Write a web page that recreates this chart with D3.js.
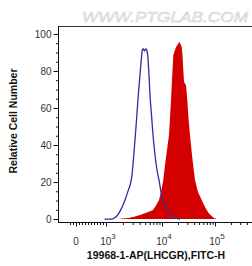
<!DOCTYPE html>
<html>
<head>
<meta charset="utf-8">
<script src="https://cdn.jsdelivr.net/npm/d3@7"></script>
<style>
  body { margin: 0; background: #fff; }
  svg { display: block; font-family: Arial, "Liberation Sans", sans-serif; }
</style>
</head>
<body>
<div id="chart"></div>
<script>
// isotype control (blue outline)
const controlIntensity = [950, 1280, 1448, 1638, 1853, 2184, 2471, 2877, 3035, 3295, 3504, 3774, 4047, 4341, 4449, 4636, 4870, 5116, 5331, 5555, 5858, 6105, 6494, 6907, 7499, 8141, 8840, 9597, 10444, 11393, 12429, 14155, 16129, 18376, 21857];
const controlCount = [0, 0, 0.8, 2.4, 5.2, 10.3, 15.1, 22.5, 29.5, 42.7, 53.5, 67.0, 77.8, 88.6, 91.4, 91.9, 90.8, 91.9, 91.4, 88.6, 77.8, 67.0, 56.2, 45.4, 34.6, 26.5, 21.1, 14.6, 10.3, 7.0, 4.9, 2.7, 1.6, 0.5, 0];

// LHCGR stained sample (red fill)
const sampleIntensity = [1638, 2471, 3295, 4047, 5397, 6907, 7814, 8840, 9597, 10581, 11393, 12429, 13557, 14155, 14785, 15443, 16342, 17591, 18376, 19611, 20484, 21207, 22345, 23532, 24369, 25231, 26010, 28369, 30015, 31623, 33750, 36813, 39300, 41942, 47774, 56105, 62000, 69736, 77080, 86655, 95743, 109000];
const sampleCount = [0, 0.5, 1.4, 2.2, 3.5, 4.9, 7.3, 10.3, 14.6, 21.1, 29.2, 37.3, 45.4, 54.6, 64.3, 75.1, 88.6, 91.4, 93.0, 94.1, 95.1, 95.7, 94.6, 93.0, 88.6, 80.5, 74.1, 72.4, 64.3, 54.6, 45.4, 34.6, 27.6, 21.1, 14.6, 10.3, 7.6, 4.9, 3.0, 1.6, 0.5, 0];

const xMajor = [0, 1e3, 1e4, 1e5];
const xMajorLabels = ["0", "3", "4", "5"];
const xMinorLin = [-200, -100, 100, 200, 300, 400, 500, 600, 700, 800, 900];
const xMinorLog = [2e3, 3e3, 4e3, 5e3, 6e3, 7e3, 8e3, 9e3,
  2e4, 3e4, 4e4, 5e4, 6e4, 7e4, 8e4, 9e4,
  2e5, 3e5, 4e5, 5e5];
const yMajor = [0, 20, 40, 60, 80, 100];
const yMinor = d3.range(0, 101, 5);

const W = 252, H = 266;
const plotLeft = 58, plotRight = 252, plotTop = 26, plotBottom = 222;

const svg = d3.select("#chart").append("svg")
  .attr("width", W).attr("height", H);

// logicle-like display: linear below 10^3, log above
const xLin = d3.scaleLinear().domain([0, 1e3]).range([76, 106]);
const xLog = d3.scaleLog().domain([1e3, 1e4, 1e5]).range([106, 162, 215]);
const x = v => v < 1e3 ? xLin(v) : xLog(v);
const y = d3.scaleLinear().domain([-1.6, 104.3]).range([plotBottom, plotTop]);

// watermark
svg.append("text")
  .attr("x", 82).attr("y", 22)
  .attr("textLength", 166)
  .attr("lengthAdjust", "spacingAndGlyphs")
  .style("font-size", "15px")
  .style("font-style", "italic")
  .style("fill", "#f0f0f0")
  .style("stroke", "#cdcdcd")
  .style("stroke-width", 0.5)
  .text("WWW.PTGLAB.COM");

const sample = sampleIntensity.map((v, i) => ({v: v, c: sampleCount[i]}));
const control = controlIntensity.map((v, i) => ({v: v, c: controlCount[i]}));

svg.append("path")
  .datum(sample)
  .attr("fill", "#d40000")
  .attr("d", d3.area().x(d => x(d.v)).y0(y(0)).y1(d => y(d.c)));

svg.append("path")
  .datum(control)
  .attr("fill", "none")
  .attr("stroke", "#2e2e9e")
  .attr("stroke-width", 1.3)
  .attr("d", d3.line().curve(d3.curveMonotoneX).x(d => x(d.v)).y(d => y(d.c)));

// frame lines
svg.append("line").attr("x1", plotLeft).attr("x2", plotRight).attr("y1", plotTop + 0.5).attr("y2", plotTop + 0.5)
  .attr("stroke", "#333").attr("stroke-width", 1);
svg.append("line").attr("x1", plotLeft + 0.5).attr("x2", plotLeft + 0.5).attr("y1", plotTop).attr("y2", plotBottom + 0.5)
  .attr("stroke", "#111").attr("stroke-width", 1);
svg.append("line").attr("x1", plotLeft).attr("x2", plotRight).attr("y1", plotBottom + 0.5).attr("y2", plotBottom + 0.5)
  .attr("stroke", "#111").attr("stroke-width", 1);

// y axis
const yAxisMinor = svg.append("g").attr("transform", `translate(${plotLeft + 0.5},0)`)
  .call(d3.axisLeft(y).tickValues(yMinor).tickSize(2.5).tickFormat(""));
const yAxis = svg.append("g").attr("transform", `translate(${plotLeft + 0.5},0)`)
  .call(d3.axisLeft(y).tickValues(yMajor).tickSize(5).tickPadding(2));
[yAxisMinor, yAxis].forEach(g => {
  g.select(".domain").remove();
  g.selectAll("line").attr("stroke", "#111");
});
yAxis.selectAll("text").style("font-size", "10px").attr("fill", "#333")
  .attr("font-family", "Arial, 'Liberation Sans', sans-serif");

// x axis
const xAxes = [
  d3.axisBottom(xLin).tickValues(xMinorLin).tickSize(2.5).tickFormat(""),
  d3.axisBottom(xLog).tickValues(xMinorLog).tickSize(2.5).tickFormat(""),
  d3.axisBottom(xLin).tickValues([0]).tickSize(4).tickFormat(""),
  d3.axisBottom(xLog).tickValues(xMajor.slice(1)).tickSize(4).tickFormat("")
];
xAxes.forEach(ax => {
  const g = svg.append("g").attr("transform", `translate(0,${plotBottom + 0.5})`).call(ax);
  g.select(".domain").remove();
  g.selectAll("line").attr("stroke", "#111");
});

// x tick labels: 0 and 10^n
xMajor.forEach((v, i) => {
  const t = svg.append("text")
    .attr("x", x(v) + (i == 0 ? 0 : 2)).attr("y", 245)
    .attr("text-anchor", "middle")
    .style("font-size", "10px").attr("fill", "#333");
  if (i == 0) {
    t.text(xMajorLabels[i]);
  } else {
    t.append("tspan").text("10");
    t.append("tspan").attr("dy", -6).style("font-size", "8px").text(xMajorLabels[i]);
  }
});

// axis titles
svg.append("text")
  .attr("x", 156).attr("y", 259)
  .attr("text-anchor", "middle")
  .style("font-size", "10.5px").style("font-weight", "bold").attr("fill", "#111")
  .text("19968-1-AP(LHCGR),FITC-H");

svg.append("text")
  .attr("transform", "translate(17,121) rotate(-90)")
  .attr("text-anchor", "middle")
  .style("font-size", "10.5px").style("font-weight", "bold").attr("fill", "#111")
  .text("Relative Cell Number");
</script>
</body>
</html>
